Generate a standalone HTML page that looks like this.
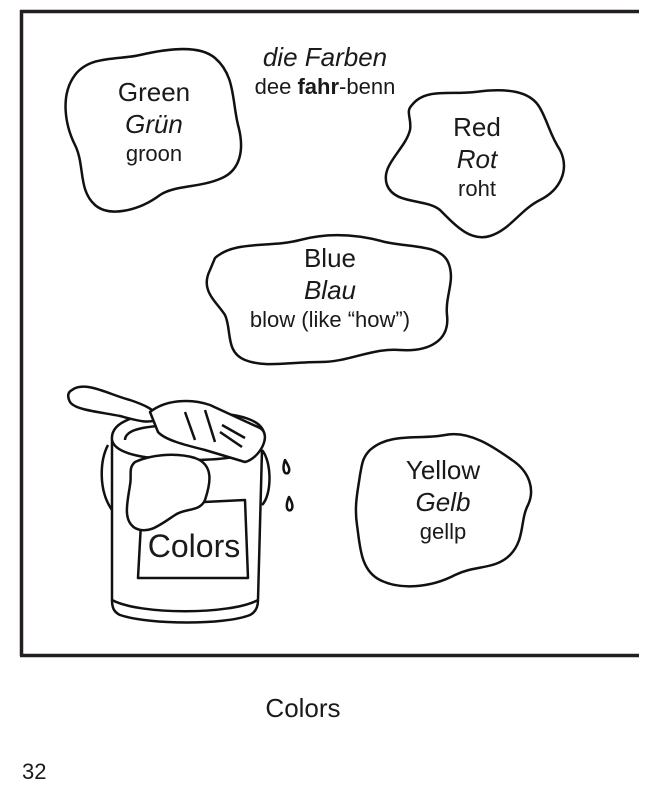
<!DOCTYPE html>
<html><head><style>
body{margin:0;background:#fff;}
svg{display:block;}
text{font-family:"Liberation Sans",sans-serif;fill:#1a1a1a;}
</style></head><body>
<svg width="650" height="811" viewBox="0 0 650 811" xmlns="http://www.w3.org/2000/svg">
<g stroke="#231f20" stroke-width="3.5" fill="none">
<path d="M21.5 10 V656 M20 11.5 H639 M20 655.5 H639"/>
</g>
<g stroke="#111" stroke-width="2.5" fill="none" stroke-linejoin="round">
<path d="M75 75 C90 55 120 60 140 55 C170 48 200 45 215 58 C235 75 232 100 238 125 C245 150 240 170 222 178 C200 188 175 185 160 195 C140 210 110 218 95 205 C78 190 85 165 75 145 C65 125 60 95 75 75 Z"/>
<path d="M412 105 C425 88 450 95 475 92 C505 88 530 90 540 108 C548 122 550 135 560 150 C570 170 560 190 540 200 C520 210 510 230 490 236 C470 242 455 225 440 210 C425 198 395 205 387 185 C380 165 405 150 410 130 C412 118 405 112 412 105 Z"/>
<path d="M215 258 C235 240 270 248 300 240 C330 232 360 235 385 242 C415 248 440 245 448 262 C456 280 445 295 447 315 C450 340 430 352 400 350 C370 348 350 362 320 362 C290 362 265 368 245 360 C225 352 232 330 225 315 C215 300 200 290 210 270 Z"/>
<path d="M370 450 C390 432 420 440 445 435 C470 430 495 448 512 460 C530 472 535 490 528 505 C520 520 525 540 510 555 C495 570 475 565 455 575 C430 588 400 590 380 580 C360 570 360 545 357 525 C354 505 358 490 360 475 C362 465 362 458 370 450 Z"/>
<path d="M108 445 C100 460 98 490 112 510"/>
<path d="M262 450 C272 462 272 495 262 505"/>
<path d="M112 440 L112 600 C140 615 230 615 258 600 L262 450"/>
<path d="M112 600 C112 608 114 612 120 615 C150 625 225 625 250 615 C256 612 258 606 258 600"/>
<path d="M112 440 C110 420 140 412 190 412 C240 412 268 420 264 440 C260 455 230 460 190 460 C150 460 115 455 112 440 Z"/>
<path d="M125 440 C125 428 150 425 190 425 C230 425 252 430 252 440"/>
<path d="M138 578 L142 505 L245 500 L248 578 Z"/>
<path d="M135 462 C150 455 175 452 195 458 C215 465 210 485 205 500 C200 512 185 508 175 515 C160 525 148 535 135 528 C122 520 128 500 130 485 C132 475 128 468 135 462 Z" fill="#fff"/>
<path d="M72 390 C85 380 110 395 130 400 C145 405 155 410 160 418 C150 425 135 420 120 416 C100 412 75 410 70 402 C67 396 68 392 72 390 Z" fill="#fff"/>
<path d="M150 412 C165 400 190 398 210 405 L260 428 C272 435 260 458 245 462 L205 450 C185 445 165 440 158 432 Z" fill="#fff"/>
<path d="M185 412 L195 440 M205 410 L215 442 M222 425 L245 438 M220 432 L242 447"/>
<path d="M285 460 c3 5 6 10 3 13 c-4 2 -6 -4 -3 -13 Z M289 497 c3 5 5 10 2 13 c-4 2 -6 -4 -2 -13 Z"/>
</g>
<text x="154" y="101" font-size="26" text-anchor="middle">Green</text>
<text x="154" y="133" font-size="26" font-style="italic" text-anchor="middle">Grün</text>
<text x="154" y="161" font-size="22" text-anchor="middle">groon</text>
<text x="325" y="66" font-size="26" font-style="italic" text-anchor="middle">die Farben</text>
<text x="325" y="94" font-size="22" text-anchor="middle">dee <tspan font-weight="bold">fahr</tspan>-benn</text>
<text x="477" y="136" font-size="26" text-anchor="middle">Red</text>
<text x="477" y="168" font-size="26" font-style="italic" text-anchor="middle">Rot</text>
<text x="477" y="196" font-size="22" text-anchor="middle">roht</text>
<text x="330" y="267" font-size="26" text-anchor="middle">Blue</text>
<text x="330" y="299" font-size="26" font-style="italic" text-anchor="middle">Blau</text>
<text x="330" y="327" font-size="22" text-anchor="middle">blow (like “how”)</text>
<text x="443" y="479" font-size="26" text-anchor="middle">Yellow</text>
<text x="443" y="511" font-size="26" font-style="italic" text-anchor="middle">Gelb</text>
<text x="443" y="539" font-size="22" text-anchor="middle">gellp</text>
<text x="194" y="557" font-size="32" text-anchor="middle">Colors</text>
<text x="303" y="717" font-size="26" text-anchor="middle">Colors</text>
<text x="22" y="779" font-size="22">32</text>
</svg>
</body></html>
